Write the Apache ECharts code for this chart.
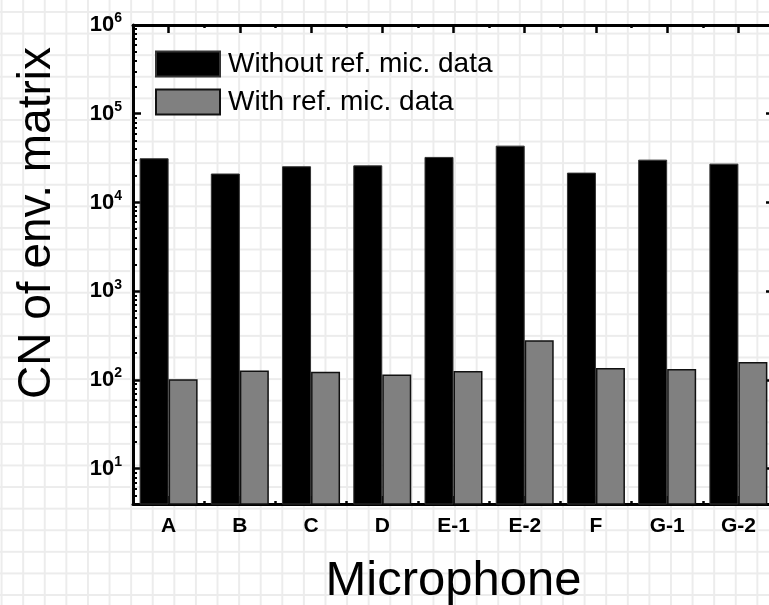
<!DOCTYPE html>
<html>
<head>
<meta charset="utf-8">
<script src="https://cdn.jsdelivr.net/npm/echarts@6/dist/echarts.min.js"></script>
<style>
  html, body { margin: 0; padding: 0; background: #fff; }
  #main {
    width: 769px; height: 605px;
    background-color: #fff;
    background-image:
      linear-gradient(to right, #ececec 2px, transparent 2px),
      linear-gradient(to bottom, #ececec 2px, transparent 2px);
    background-size: 21.6px 21.6px;
    background-position: 0.6px 11px;
  }
</style>
</head>
<body>
<div id="main"></div>
<script>
// 数据
var categories = ['A', 'B', 'C', 'D', 'E-1', 'E-2', 'F', 'G-1', 'G-2'];
var withoutRef = [31500, 21200, 25600, 26200, 32600, 43700, 21700, 30400, 27400];
var withRef = [102, 128, 124, 115, 126, 281, 136, 133, 159];
var yDecades = [1, 2, 3, 4, 5, 6];
var seriesNames = ['Without ref. mic. data', 'With ref. mic. data'];

var FONT = '"Liberation Sans", Arial, sans-serif';

var chart = echarts.init(document.getElementById('main'), null, { renderer: 'canvas' });

// y轴标签 10^n
function decadeLabel(v) {
  var e = Math.log(v) / Math.LN10;
  var r = Math.round(e);
  if (Math.abs(e - r) > 1e-6 || yDecades.indexOf(r) < 0) return '';
  return '{b|10}{s|' + r + '}';
}

function logAxis(pos, showLabel) {
  return {
    type: 'log',
    logBase: 10,
    min: 4,
    max: 1e6,
    position: pos,
    axisLine: { show: true, lineStyle: { color: '#000', width: 3 } },
    axisTick: { show: true, inside: true, length: 8, lineStyle: { color: '#000', width: 2.5 } },
    minorTick: { show: true, splitNumber: 9, length: 4, lineStyle: { color: '#000', width: 2 } },
    splitLine: { show: false },
    minorSplitLine: { show: false },
    axisLabel: {
      show: showLabel,
      margin: 11,
      formatter: decadeLabel,
      rich: {
        b: { fontFamily: FONT, fontWeight: 'bold', fontSize: 22, color: '#000', lineHeight: 27 },
        s: { fontFamily: FONT, fontWeight: 'bold', fontSize: 14, color: '#000', verticalAlign: 'top' }
      }
    }
  };
}

function catAxis(pos, opts) {
  return {
    type: 'category',
    data: categories,
    position: pos,
    axisLine: { show: opts.line, lineStyle: { color: '#000', width: 3 } },
    axisTick: { show: true, inside: true, alignWithLabel: opts.center, length: opts.len,
      lineStyle: { color: '#000', width: 2.5 } },
    axisLabel: opts.label ? {
      show: true, margin: 12, color: '#000', fontFamily: FONT, fontWeight: 'bold', fontSize: 21
    } : { show: false },
    splitLine: { show: false },
    name: opts.name || '',
    nameLocation: 'middle',
    nameGap: 53,
    nameTextStyle: { fontFamily: FONT, fontSize: 49, color: '#000' }
  };
}

var option = {
  animation: false,
  backgroundColor: 'transparent',
  grid: { left: 133, right: -5, top: 25, bottom: 101, containLabel: false, outerBoundsMode: 'none' },
  legend: {
    orient: 'vertical',
    left: 155,
    top: 50,
    padding: 0,
    itemWidth: 64,
    itemHeight: 25,
    itemGap: 10,
    icon: 'rect',
    textStyle: { fontFamily: FONT, fontSize: 28, color: '#000', padding: [0, 0, 0, 3] },
    data: seriesNames
  },
  xAxis: [
    catAxis('bottom', { line: true, center: true, len: 8, label: true, name: 'Microphone' }),
    catAxis('bottom', { line: false, center: false, len: 3, label: false }),
    catAxis('top', { line: true, center: true, len: 8, label: false }),
    catAxis('top', { line: false, center: false, len: 3, label: false })
  ],
  yAxis: [logAxis('left', true), logAxis('right', false)],
  graphic: [{
    type: 'text',
    x: 37,
    y: 223,
    rotation: Math.PI / 2,
    style: {
      text: 'CN of env. matrix',
      font: '46px ' + FONT,
      fill: '#000',
      align: 'center',
      verticalAlign: 'middle'
    }
  }],
  series: [{
    name: seriesNames[0],
    type: 'bar',
    xAxisIndex: 0,
    yAxisIndex: 0,
    barWidth: 29,
    barGap: '0%',
    itemStyle: { color: '#000', borderColor: '#333', borderWidth: 1 },
    data: withoutRef
  }, {
    name: seriesNames[1],
    type: 'bar',
    xAxisIndex: 0,
    yAxisIndex: 0,
    barWidth: 29,
    barGap: '0%',
    itemStyle: { color: '#808080', borderColor: '#111', borderWidth: 1.5 },
    data: withRef
  }]
};

chart.setOption(option);
</script>
</body>
</html>
